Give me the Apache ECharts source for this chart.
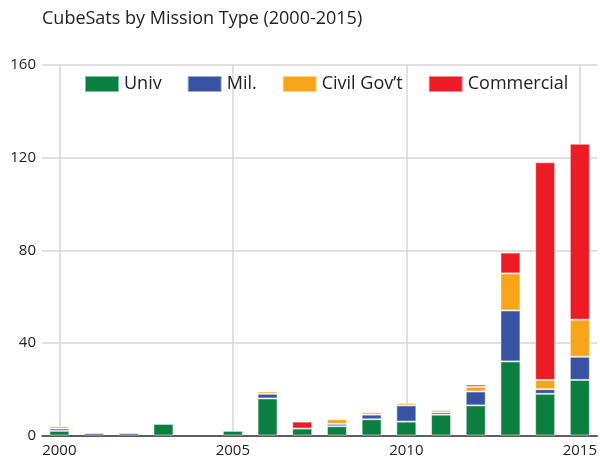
<!DOCTYPE html>
<html>
<head>
<meta charset="utf-8">
<script src="https://cdn.jsdelivr.net/npm/echarts@6/dist/echarts.min.js"></script>
<style>
html,body{margin:0;padding:0;background:#fff;}
#chart{width:600px;height:461px;}
</style>
</head>
<body>
<div id="chart"></div>
<script>
const years = [2000,2001,2002,2003,2004,2005,2006,2007,2008,2009,2010,2011,2012,2013,2014,2015];
const univ       = [2,0,0,5,0,2,16,3,4,7,6,9,13,32,18,24];
const mil        = [1,1,1,0,0,0,2,0,1,2,7,1,6,22,2,10];
const civilGov   = [1,0,0,0,0,0,1,0,2,1,1,1,2,16,4,16];
const commercial = [0,0,0,0,0,0,0,3,0,0,0,0,1,9,94,76];
const xTickLabels = [2000,2005,2010,2015];
const yTicks = [0,40,80,120,160];

const FONT = 'Open Sans';
const colors = ['#0b7f3f','#3953a4','#f9a51b','#ed1c24'];
const names = ['Univ','Mil.','Civil Gov\u2019t','Commercial'];
const seriesData = [univ, mil, civilGov, commercial];

const chart = echarts.init(document.getElementById('chart'), null, {renderer:'canvas'});
chart.setOption({
  animation:false,
  backgroundColor:'#fff',
  title:{
    text:'CubeSats by Mission Type (2000-2015)',
    left:37, top:5,
    textStyle:{fontFamily:FONT,fontSize:18,fontWeight:'normal',color:'#222'}
  },
  legend:{
    left:79, top:70, width:540,
    icon:'rect',
    itemWidth:34, itemHeight:16, itemGap:25,
    textStyle:{fontFamily:FONT,fontSize:18,color:'#222'},
    data:names
  },
  grid:{left:42,right:0,top:65,bottom:25.5,containLabel:false},
  xAxis:[{
    type:'category',
    data:years,
    boundaryGap:true,
    show:false
  },{
    type:'value',
    position:'bottom',
    min:years[0]-0.5, max:years[years.length-1]+0.5,
    axisLine:{show:true,onZero:false,lineStyle:{color:'#333',width:1.5}},
    axisTick:{show:false,customValues:xTickLabels},
    axisLabel:{customValues:xTickLabels,fontFamily:FONT,fontSize:15,color:'#222',margin:8,formatter:v=>String(v)},
    splitLine:{show:true,lineStyle:{color:'#d6d6d6',width:1.5}}
  }],
  yAxis:{
    type:'value',
    min:yTicks[0], max:yTicks[yTicks.length-1], interval:40,
    axisLine:{show:false},
    axisTick:{show:false},
    axisLabel:{fontFamily:FONT,fontSize:15,color:'#222',margin:6},
    splitLine:{show:true,lineStyle:{color:'#d6d6d6',width:1.5}}
  },
  series: seriesData.map((arr,i)=>({
    name:names[i],
    type:'bar',
    stack:'total',
    xAxisIndex:0,
    barWidth:20,
    itemStyle:{color:colors[i],borderColor:'rgba(255,255,255,0.5)',borderWidth:1},
    data: arr.map(v => v > 0 ? v : null)
  }))
});
</script>
</body>
</html>
